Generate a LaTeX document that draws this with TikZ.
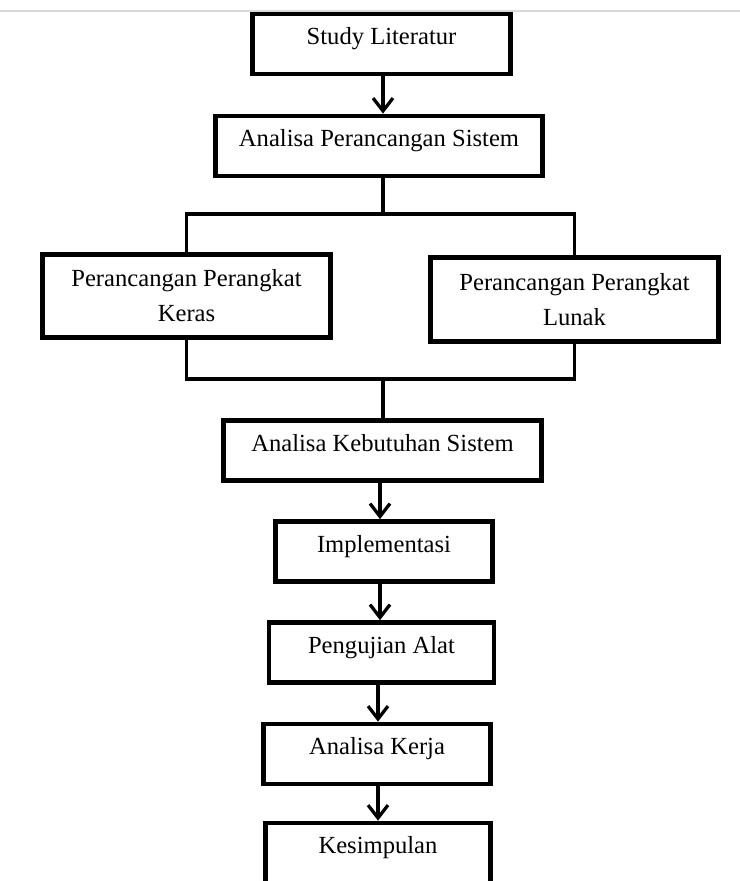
\documentclass[tikz,border=0pt]{standalone}
\usepackage{fontspec}
\setmainfont{Liberation Serif}
\usetikzlibrary{arrows.meta}

\begin{document}
\begin{tikzpicture}[x=0.03cm,y=-0.03cm,
  box/.style={draw, line width=4pt, inner sep=0pt, minimum height=1.8cm,
    font=\fontsize{21}{30}\selectfont, text height=14pt, text depth=13pt},
  twobox/.style={draw, line width=4pt, inner sep=0pt, minimum width=8.65cm,
    align=center, font=\fontsize{21}{30}\selectfont},
  line/.style={line width=2.8pt},
  arrow/.style={line, -{Straight Barb[length=11pt,width=17pt]}}]
\clip (0,0) rectangle (740,881);
\useasboundingbox (0,0) rectangle (740,881);
\draw[line width=2.5pt, gray!30] (0,11) -- (740,11);
% boxes
\node[box, minimum width=7.75cm] (study) at (381.5,44) {Study Literatur};
\node[box, minimum width=9.8cm] (aps) at (379,146) {Analisa Perancangan Sistem};
\node[twobox, minimum height=2.48cm] (keras) at (186.5,296) {Perancangan Perangkat\\Keras};
\node[twobox, minimum height=2.5cm] (lunak) at (574.5,299.5) {Perancangan Perangkat\\Lunak};
\node[box, minimum width=9.55cm] (aks) at (382.5,450.5) {Analisa Kebutuhan Sistem};
\node[box, minimum width=6.5cm] (impl) at (384,551.5) {Implementasi};
\node[box, minimum width=6.75cm] (uji) at (381.5,652.5) {Pengujian Alat};
\node[box, minimum width=6.8cm] (kerja) at (377,754) {Analisa Kerja};
\node[box, minimum width=6.75cm] (simpul) at (378,853) {Kesimpulan};
% connectors
\coordinate (split) at (383,214);
\coordinate (join) at (383,379);
\draw[arrow] (study.south -| split) -- (split |- aps.north);
\draw[line] (split |- aps.south) -- (split);
\draw[line] (keras.north) |- (split) -| (lunak.north);
\draw[line] (keras.south) |- (join) -| (lunak.south);
\draw[line] (join) -- (join |- aks.north);
\draw[arrow] (380,0 |- aks.south) -- (380,0 |- impl.north);
\draw[arrow] (380,0 |- impl.south) -- (380,0 |- uji.north);
\draw[arrow] (378,0 |- uji.south) -- (378,0 |- kerja.north);
\draw[arrow] (378,0 |- kerja.south) -- (378,0 |- simpul.north);
\end{tikzpicture}
\end{document}
